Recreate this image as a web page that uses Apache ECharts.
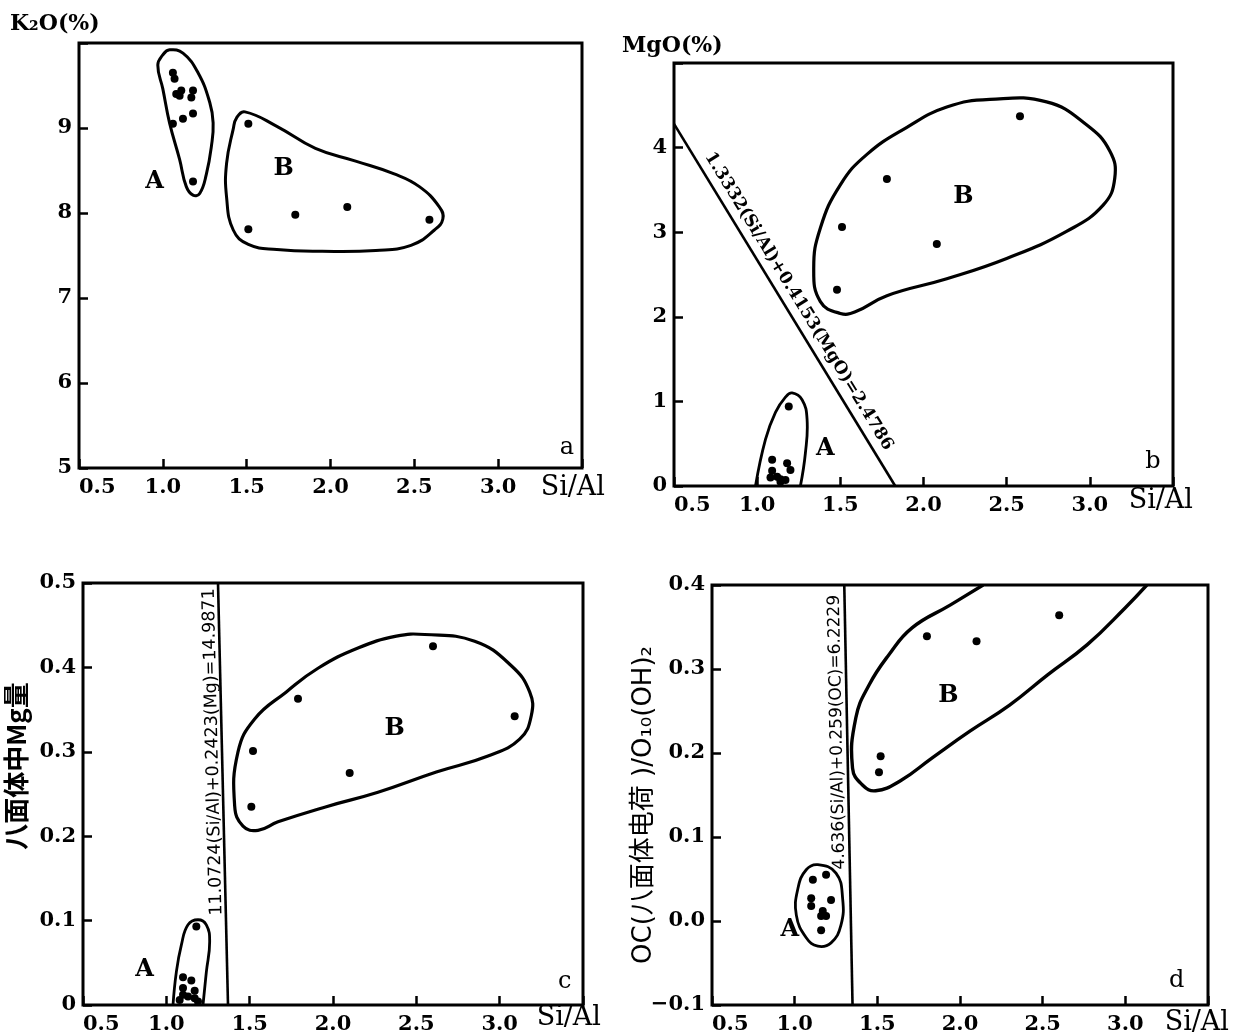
<!DOCTYPE html>
<html><head><meta charset="utf-8">
<script src="https://cdn.jsdelivr.net/npm/echarts@6/dist/echarts.min.js"></script>
<style>html,body{margin:0;padding:0;background:#fff}#c{width:1236px;height:1036px}</style>
</head><body><div id="c"></div>
<script>
// ---------- axis definitions ----------
const X_RANGE = [0.5, 3.5, 0.5];          // Si/Al for all panels
const Y_RANGE_A = [5, 10, 1];
const Y_RANGE_B = [0, 5, 1];
const Y_RANGE_C = [0, 0.5, 0.1];
const Y_RANGE_D = [-0.1, 0.4, 0.1];
const X_NAME = 'Si/Al';
const Y_NAME_A = 'K₂O(%)';
const Y_NAME_B = 'MgO(%)';
const Y_NAME_C = '八面体中Mg量';
const Y_NAME_D = 'OC(八面体电荷 )/O₁₀(OH)₂';

// ---------- panel a : K2O vs Si/Al ----------
const aGroupA = [[1.06,9.65],[1.07,9.58],[1.08,9.40],[1.11,9.44],[1.10,9.38],[1.18,9.44],[1.17,9.36],[1.18,9.17],[1.12,9.11],[1.06,9.05],[1.18,8.37]];
const aGroupB = [[1.51,9.05],[1.79,7.98],[2.10,8.07],[2.59,7.92],[1.51,7.81]];
const aOutlineA = [[1.04,9.92],[1.12,9.88],[1.21,9.65],[1.28,9.30],[1.30,9.06],[1.29,8.79],[1.26,8.46],[1.22,8.23],[1.18,8.21],[1.14,8.31],[1.10,8.63],[1.04,9.06],[1.00,9.46],[0.97,9.74],[1.00,9.86]];
const aOutlineB = [[1.49,9.19],[1.68,9.02],[1.91,8.76],[2.15,8.61],[2.38,8.46],[2.53,8.31],[2.65,8.07],[2.67,7.93],[2.62,7.80],[2.48,7.62],[2.27,7.56],[1.95,7.55],[1.68,7.57],[1.51,7.63],[1.42,7.80],[1.38,8.19],[1.38,8.58],[1.42,8.99],[1.44,9.12]];
const aTexts = [[0.95,8.37,'A'],[1.72,8.52,'B']];
const aTag = [[3.41,5.24,'a']];

// ---------- panel b : MgO vs Si/Al ----------
const bGroupA = [[1.19,0.94],[1.09,0.31],[1.18,0.27],[1.20,0.19],[1.09,0.18],[1.08,0.10],[1.12,0.11],[1.14,0.08],[1.17,0.07],[1.14,0.05]];
const bGroupB = [[2.58,4.37],[1.78,3.63],[1.51,3.06],[2.08,2.86],[1.48,2.32]];
const bOutlineA = [[0.99,0.0],[1.05,0.55],[1.11,0.87],[1.17,1.05],[1.21,1.10],[1.27,1.02],[1.30,0.79],[1.29,0.39],[1.26,0.0]];
const bOutlineB = [[2.40,4.57],[2.74,4.54],[2.98,4.27],[3.12,3.96],[3.15,3.64],[3.08,3.32],[2.86,3.01],[2.50,2.69],[2.14,2.45],[1.78,2.25],[1.59,2.06],[1.50,2.04],[1.38,2.18],[1.34,2.57],[1.38,3.05],[1.50,3.56],[1.66,3.92],[1.90,4.24],[2.14,4.48]];
const bBoundary = [[0.5,4.28],[1.83,0]];
const bEquation = '1.3332(Si/Al)+0.4153(MgO)=2.4786';
const bTexts = [[1.41,0.44,'A'],[2.24,3.42,'B']];
const bTag = [[3.38,0.29,'b']];

// ---------- panel c : octahedral Mg vs Si/Al ----------
const cGroupA = [[1.18,0.093],[1.10,0.033],[1.15,0.029],[1.10,0.020],[1.17,0.017],[1.10,0.012],[1.13,0.010],[1.17,0.008],[1.08,0.006],[1.19,0.004]];
const cGroupB = [[2.60,0.425],[1.79,0.363],[3.09,0.342],[1.52,0.301],[2.10,0.275],[1.51,0.235]];
const cOutlineA = [[1.04,0.0],[1.06,0.039],[1.09,0.071],[1.13,0.095],[1.19,0.101],[1.24,0.095],[1.26,0.075],[1.24,0.039],[1.22,0.0]];
const cOutlineB = [[2.55,0.439],[2.85,0.431],[3.07,0.402],[3.18,0.371],[3.19,0.343],[3.12,0.315],[2.93,0.295],[2.62,0.276],[2.27,0.252],[1.96,0.235],[1.67,0.217],[1.55,0.207],[1.46,0.212],[1.41,0.236],[1.43,0.300],[1.53,0.339],[1.72,0.371],[1.91,0.399],[2.15,0.423],[2.38,0.437]];
const cBoundary = [[1.37,0],[1.31,0.5]];
const cEquation = '11.0724(Si/Al)+0.2423(Mg)=14.9871';
const cTexts = [[0.87,0.042,'A'],[2.37,0.327,'B']];
const cTag = [[3.39,0.027,'c']];

// ---------- panel d : octahedral charge vs Si/Al ----------
const dGroupA = [[1.11,0.049],[1.19,0.055],[1.10,0.027],[1.10,0.018],[1.22,0.025],[1.17,0.012],[1.16,0.006],[1.19,0.006],[1.16,-0.011]];
const dGroupB = [[2.60,0.364],[1.80,0.339],[2.10,0.333],[1.52,0.196],[1.51,0.177]];
const dOutlineA = [[1.14,0.067],[1.25,0.057],[1.29,0.027],[1.28,-0.005],[1.22,-0.026],[1.14,-0.030],[1.07,-0.020],[1.01,0.007],[1.02,0.039],[1.07,0.061]];
const dOutlineB = [[2.14,0.400],[1.94,0.376],[1.71,0.349],[1.57,0.317],[1.45,0.281],[1.37,0.242],[1.35,0.182],[1.41,0.162],[1.49,0.155],[1.64,0.167],[1.83,0.194],[2.06,0.226],[2.30,0.257],[2.53,0.293],[2.77,0.329],[3.00,0.373],[3.13,0.400]];
const dBoundary = [[1.35,-0.1],[1.30,0.4]];
const dEquation = '4.636(Si/Al)+0.259(OC)=6.2229';
const dTexts = [[0.97,-0.011,'A'],[1.93,0.268,'B']];
const dTag = [[3.31,-0.071,'d']];

// ---------- build chart ----------
const INK = '#000';
const SERIF = 'DejaVu Serif';
const grids = [
  {left:79,  top:43,  width:503, height:425},
  {left:674, top:63,  width:499, height:423},
  {left:83,  top:583, width:500, height:422},
  {left:712, top:585, width:496, height:420}
].map(g => Object.assign(g, {show:true, borderColor:INK, borderWidth:3, backgroundColor:'transparent', containLabel:false}));

function near(a,b){return Math.abs(a-b)<1e-9;}
function xAxis(gi){
  return {type:'value', gridIndex:gi, min:X_RANGE[0], max:X_RANGE[1], interval:X_RANGE[2],
    axisLine:{show:false, onZero:false}, splitLine:{show:false},
    axisTick:{show:true, inside:true, length:9, lineStyle:{color:INK, width:2.5}},
    axisLabel:{color:INK, fontFamily:SERIF, fontWeight:'bold', fontSize:21, margin:9, alignMinLabel:'left',
      formatter:v => near(v,X_RANGE[1]) ? '' : v.toFixed(1)}};
}
function yAxis(gi, r, fmt){
  return {type:'value', gridIndex:gi, min:r[0], max:r[1], interval:r[2],
    axisLine:{show:false, onZero:false}, splitLine:{show:false},
    axisTick:{show:true, inside:true, length:9, lineStyle:{color:INK, width:2.5}},
    axisLabel:{color:INK, fontFamily:SERIF, fontWeight:'bold', fontSize:21, margin:7, formatter:fmt}};
}

function dots(gi, data){
  return {type:'scatter', xAxisIndex:gi, yAxisIndex:gi, data, symbol:'circle', symbolSize:8,
    itemStyle:{color:INK, opacity:1}, silent:true, z:4};
}
function outline(gi, pts, closed, lw){
  return {type:'custom', xAxisIndex:gi, yAxisIndex:gi, data:pts, silent:true, z:3, clip:true,
    renderItem:(params, api) => {
      if (params.dataIndex !== 0) return null;
      const p = pts.map(v => api.coord(v));
      return {type: closed ? 'polygon' : 'polyline', shape:{points:p, smooth:0.45},
        style:{fill:null, stroke:INK, lineWidth:lw}};
    }};
}
function boundary(gi, data){
  return {type:'line', xAxisIndex:gi, yAxisIndex:gi, data, symbol:'none', silent:true, z:3,
    lineStyle:{color:INK, width:2.6, opacity:1}};
}
function texts(gi, data, size, weight){
  return {type:'scatter', xAxisIndex:gi, yAxisIndex:gi, data, symbolSize:0, silent:true, z:5,
    itemStyle:{opacity:1, color:INK},
    label:{show:true, position:'inside', formatter:p => p.value[2], color:INK, opacity:1,
      fontFamily:SERIF, fontWeight:weight, fontSize:size}};
}

const series = [
  outline(0, aOutlineA, true, 3), outline(0, aOutlineB, true, 3),
  dots(0, aGroupA), dots(0, aGroupB), texts(0, aTexts, 24, 'bold'), texts(0, aTag, 24, 'normal'),

  outline(1, bOutlineA, false, 2.8), outline(1, bOutlineB, true, 3.2), boundary(1, bBoundary),
  dots(1, bGroupA), dots(1, bGroupB), texts(1, bTexts, 24, 'bold'), texts(1, bTag, 24, 'normal'),

  outline(2, cOutlineA, false, 2.8), outline(2, cOutlineB, true, 3.2), boundary(2, cBoundary),
  dots(2, cGroupA), dots(2, cGroupB), texts(2, cTexts, 24, 'bold'), texts(2, cTag, 24, 'normal'),

  outline(3, dOutlineA, true, 2.8), outline(3, dOutlineB, false, 3.4), boundary(3, dBoundary),
  dots(3, dGroupA), dots(3, dGroupB), texts(3, dTexts, 24, 'bold'), texts(3, dTag, 24, 'normal')
];

const chart = echarts.init(document.getElementById('c'), null, {renderer:'canvas'});
chart.setOption({
  animation:false,
  backgroundColor:'#fff',
  grid:grids,
  xAxis:[xAxis(0), xAxis(1), xAxis(2), xAxis(3)],
  yAxis:[
    yAxis(0, Y_RANGE_A, v => near(v,10) ? '' : String(v)),
    yAxis(1, Y_RANGE_B, v => near(v,5) ? '' : String(v)),
    yAxis(2, Y_RANGE_C, v => near(v,0) ? '0' : v.toFixed(1)),
    yAxis(3, Y_RANGE_D, v => (v < 0 ? '−' : '') + Math.abs(v).toFixed(1))
  ],
  series
});

// ---------- equation labels along the boundary lines ----------
function eqLabel(gi, line, str, t, off, font){
  const p0 = chart.convertToPixel({gridIndex:gi}, line[0]);
  const p1 = chart.convertToPixel({gridIndex:gi}, line[1]);
  let dx = p1[0]-p0[0], dy = p1[1]-p0[1];
  const L = Math.hypot(dx,dy); dx/=L; dy/=L;
  const ux = dy, uy = -dx;           // "up" side of the text baseline
  return {type:'text', x:p0[0]+dx*L*t+ux*off, y:p0[1]+dy*L*t+uy*off,
    rotation:Math.atan2(-dy, dx), silent:true, z:10,
    style:{text:str, fill:INK, font, align:'center', verticalAlign:'middle',
      textAlign:'center', textVerticalAlign:'middle'}};
}
function plain(x, y, str, font, align, rot){
  return {type:'text', x, y, rotation:rot||0, silent:true, z:10,
    style:{text:str, fill:INK, font, align:align||'left', verticalAlign:'middle',
      textAlign:align||'left', textVerticalAlign:'middle'}};
}
const nameFont = 'bold 22px "DejaVu Serif"';
const siFont = '27px "DejaVu Serif"';
chart.setOption({graphic:[
  eqLabel(1, bBoundary, bEquation, 0.51, 14, 'bold 17px "DejaVu Serif"'),
  eqLabel(2, cBoundary, cEquation, 0.60, 9, '17.5px "DejaVu Sans"'),
  eqLabel(3, dBoundary, dEquation, 0.65, 10, '17px "DejaVu Sans"'),
  plain(10, 24, Y_NAME_A, nameFont),
  plain(622, 46, Y_NAME_B, nameFont),
  plain(16, 766, Y_NAME_C, 'bold 26px "Noto Sans CJK SC"', 'center', Math.PI/2),
  plain(644, 805, Y_NAME_D, '26px "DejaVu Sans", "Noto Sans CJK SC"', 'center', Math.PI/2),
  plain(605, 488, X_NAME, siFont, 'right'),
  plain(1193, 501, X_NAME, siFont, 'right'),
  plain(601, 1018, X_NAME, siFont, 'right'),
  plain(1229, 1023, X_NAME, siFont, 'right')
]});
</script></body></html>
